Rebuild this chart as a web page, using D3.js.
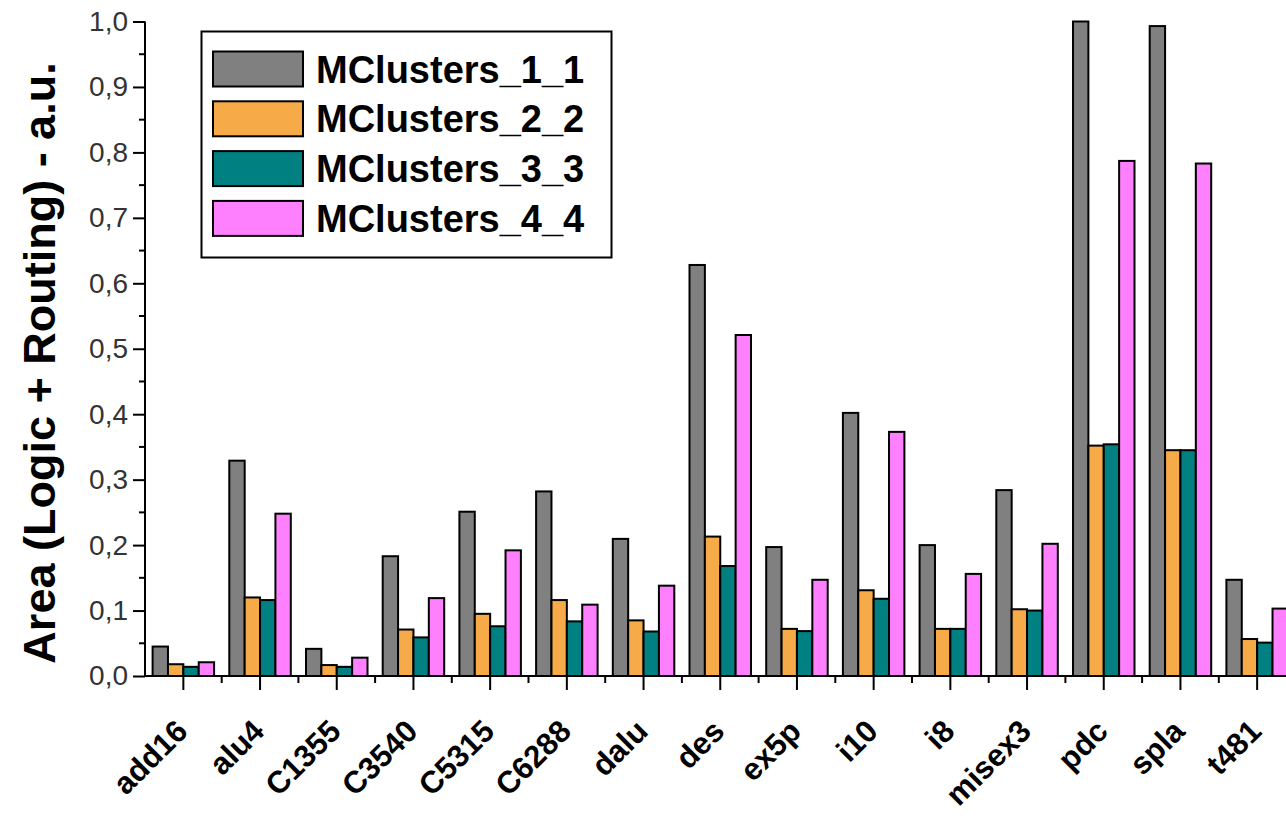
<!DOCTYPE html>
<html><head><meta charset="utf-8">
<script src="https://cdn.jsdelivr.net/npm/d3@7"></script>
<style>body{margin:0;background:#fff}svg{display:block}</style>
</head><body>
<script>
const categories = ["add16","alu4","C1355","C3540","C5315","C6288","dalu","des","ex5p","i10","i8","misex3","pdc","spla","t481"];
const seriesNames = ["MClusters_1_1","MClusters_2_2","MClusters_3_3","MClusters_4_4"];
const mc11 = [0.045, 0.329, 0.0415, 0.183, 0.251, 0.282, 0.2095, 0.628, 0.197, 0.402, 0.200, 0.284, 1.0, 0.993, 0.147];
const mc22 = [0.018, 0.120, 0.0167, 0.071, 0.095, 0.116, 0.085, 0.213, 0.072, 0.131, 0.072, 0.102, 0.352, 0.345, 0.0565];
const mc33 = [0.014, 0.116, 0.014, 0.059, 0.076, 0.0835, 0.068, 0.168, 0.0686, 0.118, 0.072, 0.100, 0.354, 0.345, 0.051];
const mc44 = [0.021, 0.248, 0.028, 0.119, 0.192, 0.109, 0.138, 0.521, 0.147, 0.373, 0.156, 0.202, 0.787, 0.783, 0.103];
const yTicks = [0,0.1,0.2,0.3,0.4,0.5,0.6,0.7,0.8,0.9,1.0];
const colors = ["#808080","#f7aa48","#008080","#ff80ff"];
const series = [mc11, mc22, mc33, mc44];

const W = 1286, H = 818;
const svg = d3.select("body").append("svg").attr("width", W).attr("height", H);

const x0 = d3.scaleBand().domain(categories).range([145, 145 + 15*76.7]).padding(0);
const groupW = 61.5;
const x1 = d3.scaleBand().domain(seriesNames).range([0, groupW]).padding(0);
const y = d3.scaleLinear().domain([0, 1]).range([676, 21.5]);

// bars
const g = svg.append("g");
categories.forEach((c, i) => {
  const gx = x0(c) + (x0.bandwidth() - groupW) / 2;
  series.forEach((s, k) => {
    g.append("rect")
      .attr("x", gx + x1(seriesNames[k]))
      .attr("y", y(s[i]))
      .attr("width", x1.bandwidth())
      .attr("height", y(0) - y(s[i]))
      .attr("fill", colors[k])
      .attr("stroke", "#000")
      .attr("stroke-width", 2);
  });
});

// y axis
const yAxis = d3.axisLeft(y).tickValues(yTicks).tickSize(12).tickFormat(d => d3.format(".1f")(d).replace(".", ","));
const ya = svg.append("g").attr("transform", "translate(145,0)").call(yAxis);
ya.select(".domain").attr("stroke", "#000").attr("stroke-width", 2).attr("d", `M0,${y(0)}V${y(1)}`);
ya.selectAll(".tick line").attr("stroke", "#000").attr("stroke-width", 2);
ya.selectAll(".tick text").attr("font-family", "Liberation Sans, Arial, sans-serif").attr("font-size", 28).attr("fill", "#333").attr("x", -17);
const minorY = d3.range(0.05, 1, 0.1);
ya.selectAll(".minor").data(minorY).enter().append("line")
  .attr("x1", -6).attr("x2", 0).attr("y1", d => y(d)).attr("y2", d => y(d))
  .attr("stroke", "#000").attr("stroke-width", 2);

// x axis
const xAxis = d3.axisBottom(x0).tickSize(14).tickFormat(d => d);
const xa = svg.append("g").attr("transform", `translate(0,${y(0)})`).call(xAxis);
xa.select(".domain").attr("stroke", "#000").attr("stroke-width", 2).attr("d", `M145,0H${W}`);
xa.selectAll(".tick line").attr("stroke", "#000").attr("stroke-width", 2);
xa.selectAll(".tick text")
  .attr("font-family", "Liberation Sans, Arial, sans-serif").attr("font-size", 31).attr("font-weight", "bold").attr("fill", "#000")
  .attr("text-anchor", "end").attr("transform", "translate(6,57) rotate(-45)").attr("y", 0).attr("dy", 0).attr("x", 0);
const bounds = categories.map(c => x0(c)).slice(1).concat([x0(categories[14]) + x0.bandwidth()]);
xa.selectAll(".minorx").data(bounds).enter().append("line")
  .attr("x1", d => d).attr("x2", d => d).attr("y1", 0).attr("y2", 7)
  .attr("stroke", "#000").attr("stroke-width", 2);

// y title
svg.append("text")
  .attr("transform", `translate(55,363) rotate(-90)`)
  .attr("text-anchor", "middle")
  .attr("font-family", "Liberation Sans, Arial, sans-serif").attr("font-size", 45).attr("font-weight", "bold")
  .text("Area (Logic + Routing) - a.u.");

// legend
const lg = svg.append("g");
lg.append("rect").attr("x", 201.5).attr("y", 31.5).attr("width", 410).attr("height", 226)
  .attr("fill", "#fff").attr("stroke", "#000").attr("stroke-width", 2);
seriesNames.forEach((n, k) => {
  const yy = 51.5 + k * 49.8;
  lg.append("rect").attr("x", 213).attr("y", yy).attr("width", 90).attr("height", 35)
    .attr("fill", colors[k]).attr("stroke", "#000").attr("stroke-width", 2);
  lg.append("text").attr("x", 316).attr("y", yy + 31)
    .attr("font-family", "Liberation Sans, Arial, sans-serif").attr("font-size", 38).attr("font-weight", "bold")
    .text(n);
});
</script>
</body></html>
